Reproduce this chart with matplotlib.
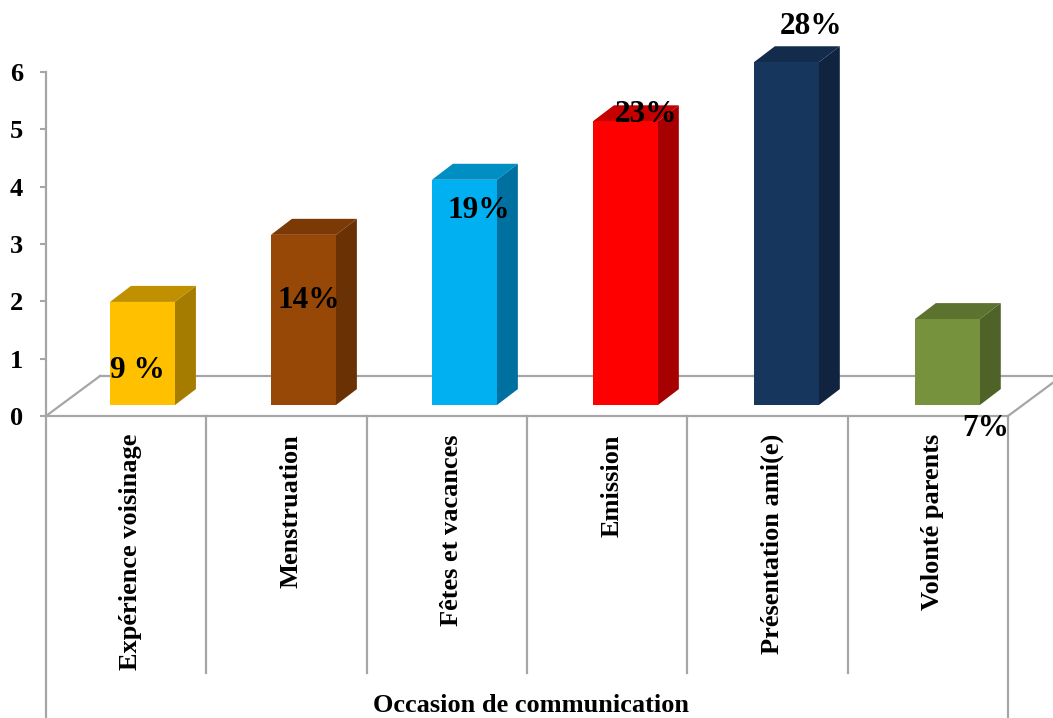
import matplotlib.pyplot as plt

# données
categories = ['Expérience voisinage', 'Menstruation', 'Fêtes et vacances',
              'Emission', 'Présentation ami(e)', 'Volonté parents']
valeurs = [1.8, 2.97, 3.93, 4.95, 5.98, 1.5]
pourcentages = ['9 %', '14%', '19%', '23%', '28%', '7%']
y_ticks = [0, 1, 2, 3, 4, 5, 6]

# couleurs : face, dessus, côté
c_face = ['#FFC000', '#974706', '#00B0F0', '#FF0000', '#17365D', '#76923C']
c_top = ['#C09000', '#7A3905', '#008FC3', '#C40000', '#132C4C', '#5C7330']
c_side = ['#A67C00', '#6A3204', '#0070A0', '#A60000', '#10243F', '#4F6228']
gris = '#A6A6A6'

W, H = 1053, 718
fig = plt.figure(figsize=(W / 100, H / 100), dpi=100)
plt.rcParams['font.family'] = ['Liberation Serif', 'DejaVu Serif']

# axes : x=46..1008 px, valeur 0 à y=416 px, valeur 6 à y=72 px
ax = fig.add_axes([46 / W, 1 - 416 / H, 962 / W, 344 / H])
ax.set_xlim(0, 6)
ax.set_ylim(0, 6)
for s in ax.spines.values():
    s.set_visible(False)

# profondeur du plancher et des barres (unités de données)
sol_dx, sol_dy = 54 / 160.33, 40 / 57.33
dx, dy = 21 / 160.33, 16 / 57.33
base = 0.19
larg = 0.405
dec = 0.399
pas = 1.004

# axe y et plancher
ax.plot([0, 0], [0, 6], color=gris, lw=1.6, clip_on=False, zorder=1)
ax.plot([0, 6], [0, 0], color=gris, lw=1.6, clip_on=False, zorder=1)
ax.plot([0, sol_dx], [0, sol_dy], color=gris, lw=1.6, clip_on=False, zorder=1)
ax.plot([6, 6 + sol_dx], [0, sol_dy], color=gris, lw=1.6, clip_on=False, zorder=1)
ax.plot([sol_dx, 6 + sol_dx], [sol_dy, sol_dy], color=gris, lw=1.6, clip_on=False, zorder=1)

# séparateurs des catégories
for i in range(1, 6):
    ax.plot([i, i], [0, -4.48], color=gris, lw=1.6, clip_on=False, zorder=1)
for x in [0, 6]:
    ax.plot([x, x], [0, -5.3], color=gris, lw=1.6, clip_on=False, zorder=1)

# barres 3D : face + dessus + côté
for i, v in enumerate(valeurs):
    x0 = i * pas + dec
    x1 = x0 + larg
    y1 = base + v
    ax.bar(x0, v, width=larg, bottom=base, align='edge', color=c_face[i],
           zorder=3, clip_on=False)
    ax.fill([x0, x1, x1 + dx, x0 + dx], [y1, y1, y1 + dy, y1 + dy],
            color=c_top[i], lw=0, zorder=2, clip_on=False)
    ax.fill([x1, x1 + dx, x1 + dx, x1], [base, base + dy, y1 + dy, y1],
            color=c_side[i], lw=0, zorder=2, clip_on=False)

ax.set_yticks(y_ticks)
ax.set_yticklabels(y_ticks, fontsize=19, fontweight='bold')
ax.tick_params(axis='y', length=4.5, width=1.5, color=gris, pad=12)
ax.set_xticks([i + 0.53 for i in range(6)])
ax.set_xticklabels(categories, rotation=90, fontsize=19, fontweight='bold', va='top')
ax.tick_params(axis='x', length=0, pad=13)

# pourcentages (centre en pixels)
pos_pct = [(137, 371), (309, 300), (479, 210), (646, 114), (811, 26), (986, 428)]
for txt, (px, py) in zip(pourcentages, pos_pct):
    fig.text(px / W, 1 - py / H, txt, fontsize=22.5, fontweight='bold',
             ha='center', va='center', zorder=5)

fig.text(531 / W, 1 - 706 / H, 'Occasion de communication', fontsize=19,
         fontweight='bold', ha='center', va='center')

fig.savefig('out.png', dpi=100)
